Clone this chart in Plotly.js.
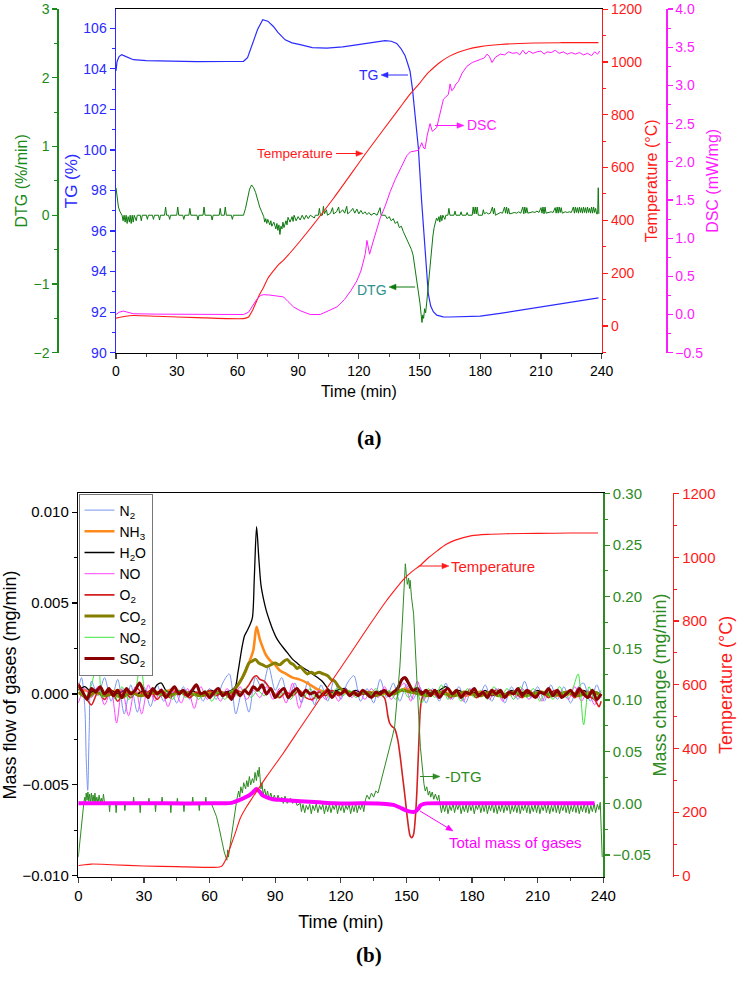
<!DOCTYPE html>
<html><head><meta charset="utf-8">
<script src="https://cdn.plot.ly/plotly-3.0.1.min.js"></script>
<style>html,body{margin:0;padding:0;background:#fff}</style>
</head><body><div id="chart" style="width:738px;height:985px"></div>
<script>
// ---------- DATA: panel (a) ----------
const timeTicks = [0,30,60,90,120,150,180,210,240];
const tgCurve = [[0,103.9],[0.5,104.35],[1.5,104.6],[2.8,104.7],[5,104.6],[8.6,104.45],[15,104.4],[25,104.37],[40,104.35],[55,104.36],[63,104.37],[65,104.55],[67.9,105.35],[70,105.95],[72.5,106.42],[75,106.35],[77.8,106.09],[80,105.8],[83.6,105.43],[87,105.28],[91,105.19],[97,105.05],[104.2,105.02],[112,105.08],[118,105.17],[124,105.27],[130,105.35],[133,105.39],[136,105.36],[138.7,105.25],[140.8,105.0],[142.8,104.66],[144,104.3],[145.3,103.88],[146.5,103.0],[147.7,101.92],[149.4,100.11],[151,97.5],[152.7,94.88],[154.3,92.92],[155.5,92.3],[156.8,92.02],[158.5,91.85],[161.7,91.77],[165,91.76],[173.3,91.77],[180,91.8],[189.8,91.94],[200,92.1],[214.5,92.35],[225,92.52],[238.4,92.7]];
const tempA = [[0,30],[4,36],[8.6,40],[20,37],[40,32],[63,28],[65.5,34],[67.5,60],[69.6,97],[71,120],[72.9,146],[75,180],[77.8,209],[80,230],[82.8,250],[91,322],[107.5,484],[124,660],[140.4,828],[145,875],[150.3,922],[153.5,953],[156.9,978],[160,998],[165.1,1023],[173.4,1047],[180,1058],[189.9,1066],[206.4,1072],[220,1073],[238.4,1073]];
const dscCurve = [[0,0.0],[1.5,0.03],[3.6,0.045],[6,0.025],[8.6,0.01],[20,0.005],[40,0.0],[63,0.0],[65.5,0.03],[67.5,0.12],[69.6,0.20],[71.5,0.25],[72.9,0.26],[76,0.255],[79,0.24],[81.1,0.23],[82.8,0.23],[85,0.17],[87.7,0.10],[91,0.05],[96,0.0],[100.9,0.0],[105,0.05],[109.2,0.10],[113,0.20],[116,0.31],[119,0.44],[121,0.57],[122.3,0.70],[123.2,0.80],[124,0.97],[124.6,0.88],[125.3,0.79],[127,0.95],[130.5,1.26],[133,1.42],[135.5,1.61],[138,1.77],[140.4,1.91],[142,2.00],[143.7,2.08],[145.5,2.13],[147,2.14],[149.4,2.15],[150.3,2.20],[151.1,2.25],[152,2.18],[152.7,2.17],[153.8,2.35],[155.2,2.50],[156.3,2.40],[156.9,2.41],[158.5,2.45],[160,2.62],[161.8,2.82],[163,2.85],[164.2,2.88],[165.1,3.02],[165.9,2.93],[166.7,2.95],[168,3.02],[169.2,3.05],[171,3.16],[173.4,3.25],[176,3.30],[180,3.34],[182,3.36],[183.3,3.41],[184.5,3.38],[185.8,3.30],[187.5,3.37],[189.9,3.41],[192,3.40],[194,3.44],[196,3.42],[198.1,3.43],[199.5,3.40],[201,3.46],[202.5,3.41],[204,3.45],[206,3.42],[208,3.44],[210,3.45],[211.5,3.41],[213,3.44],[215,3.43],[217,3.46],[219,3.42],[221,3.44],[223,3.41],[225,3.43],[227,3.41],[229,3.43],[231,3.40],[233,3.42],[235,3.39],[236.5,3.44],[238,3.41],[239,3.45]];
const dtgCurve = [[0,0.4],[0.6,0.25],[1.2,0.12],[2,0.05],[3,0.0],[3.5,-0.08],[4,0],[4.5,-0.1],[5,0],[5.5,-0.12],[6,-0.02],[6.6,-0.1],[7,0],[7.5,-0.12],[8,0],[8.5,-0.1],[9,0],[10,-0.08],[10.5,0],[12,0],[12.5,-0.08],[13,0],[15,0],[15.5,-0.06],[16,0],[18,0],[18.5,-0.06],[19,0],[21,0],[21.5,-0.07],[22,0],[24,0],[24.5,0.12],[25,0],[26,0],[26.5,-0.06],[27,0],[30,0],[30.5,0.12],[31,0],[33,0],[33.5,-0.06],[34,0],[36,0],[36.5,0.1],[37,0],[40,0],[40.5,-0.07],[41,0],[43,0],[43.5,0.12],[44,0],[47,0],[47.5,-0.07],[48,0],[51,0],[51.5,0.1],[52,0],[53.5,0],[54,0.12],[54.5,0],[57,0],[57.5,-0.06],[58,0],[63,0],[64,0.1],[65,0.25],[66,0.38],[67,0.44],[68,0.4],[69,0.33],[70,0.22],[71,0.12],[72,0.05],[73,-0.02],[73.5,-0.1],[74,-0.05],[74.5,-0.12],[75,-0.06],[76,-0.14],[76.5,-0.08],[77,-0.16],[78,-0.1],[79,-0.2],[79.5,-0.12],[80,-0.22],[80.5,-0.14],[81,-0.28],[81.5,-0.16],[82,-0.2],[82.5,-0.1],[83,-0.18],[84,-0.08],[84.5,-0.14],[85,-0.03],[86,-0.1],[87,-0.02],[87.5,-0.09],[88,0],[89,-0.08],[90,-0.02],[91,-0.07],[92,0],[93,-0.06],[94,0],[95,-0.05],[96,0],[98,-0.04],[98.5,0],[100,0],[100.5,0.1],[101,0],[102,0],[102.5,0.13],[103,0.02],[104,0.08],[104.5,0],[106,0.03],[107,0.11],[107.5,0.02],[109,0.05],[110,0.12],[110.5,0.03],[112,0.08],[113,0.03],[114,0.13],[114.5,0.02],[116,0.06],[117,0.1],[118,0.03],[119,0.09],[120,0.02],[121,0.07],[122,0.02],[123,0.05],[124,0.01],[125,0.04],[126,0],[127.5,0.03],[129,0],[130.5,0.11],[131,0],[132,0],[133,0],[134,-0.05],[135,-0.02],[136,-0.08],[137,-0.05],[138,-0.12],[139,-0.09],[140,-0.18],[141,-0.16],[142,-0.24],[143,-0.3],[144,-0.36],[145,-0.42],[146,-0.5],[146.8,-0.58],[147.5,-0.72],[148.2,-0.85],[149,-1.0],[149.6,-1.15],[150.2,-1.28],[150.8,-1.45],[151.2,-1.56],[151.6,-1.45],[152,-1.5],[152.5,-1.36],[153,-1.42],[153.6,-1.25],[154.2,-1.05],[154.8,-0.8],[155.4,-0.6],[156,-0.45],[156.6,-0.3],[157.2,-0.18],[157.8,-0.1],[158.4,-0.04],[159,-0.08],[159.6,-0.02],[160,-0.1],[160.5,0],[161,-0.08],[161.5,0],[162.5,-0.06],[163,0],[164,0],[164.5,0.1],[165,0],[167,0],[167.5,0.06],[168,0],[170,0],[170.5,0.05],[171,0],[173,0],[173.5,0.04],[174,0],[176,0],[176.5,0.12],[177,0.02],[177.5,0.12],[178,0.02],[178.5,0.12],[179,0],[181,0],[181.5,0.08],[182,0.02],[183,0.04],[184,0.02],[185,0.03],[186,0.12],[186.5,0.02],[187,0.1],[187.5,0],[189,0.02],[190,0.04],[191,0.03],[192,0.12],[192.5,0.03],[193,0.12],[193.5,0.02],[194,0.1],[194.5,0.02],[196,0.03],[197,0.04],[198,0.03],[199,0.05],[200,0.03],[201,0.12],[201.5,0.02],[202,0.12],[202.5,0.03],[203,0.11],[203.5,0.03],[205,0.04],[206,0.05],[207,0.04],[208,0.06],[209,0.04],[210,0.11],[210.5,0.03],[211,0.12],[211.5,0.02],[212,0.12],[212.5,0.03],[214,0.04],[215,0.05],[216,0.04],[217,0.11],[217.5,0.03],[218,0.12],[218.5,0.03],[219,0.12],[219.5,0.04],[220,0.11],[220.5,0.03],[222,0.05],[223,0.04],[224,0.05],[225,0.04],[226,0.12],[226.5,0.03],[227,0.12],[227.5,0.04],[228,0.11],[228.5,0.03],[229,0.12],[229.5,0.04],[230,0.11],[230.5,0.03],[231,0.12],[231.5,0.04],[232,0.11],[232.5,0.03],[233,0.12],[233.5,0.04],[234,0.1],[234.5,0.03],[235,0.12],[235.5,0.03],[236,0.12],[236.5,0.04],[237,0.1],[237.5,0.02],[238,0.02],[238.3,0.4],[238.6,0.02]];

// ---------- DATA: panel (b) ----------
const gasNames = ['N<sub>2</sub>','NH<sub>3</sub>','H<sub>2</sub>O','NO','O<sub>2</sub>','CO<sub>2</sub>','NO<sub>2</sub>','SO<sub>2</sub>'];
const n2Flow = [[0,0.0003],[1.5,0.0009],[3,-0.0008],[3.6,-0.0035],[4.3,-0.0053],[5,-0.002],[6,0.0007],[9,-0.0001],[12,0.0009],[15,-0.0004],[18,0.0008],[21,-0.0011],[24,0.0005],[27,-0.0010],[30,0.0004],[33,-0.0007],[36,0.0005],[39,-0.0004],[42,0.0003],[45,-0.0005],[48,0.0004],[51,-0.0003],[54,0.0005],[57,-0.0004],[60,0.0003],[63,-0.0003],[66,0.0006],[69,0.0011],[72,-0.0011],[75,0.0002],[78,-0.0010],[81,0.0009],[84,0.0003],[87,0.0015],[90,0.0002],[93,0.0009],[96,-0.0003],[99,0.0006],[102,-0.0005],[105,0.0007],[108,-0.0006],[111,0.0005],[114,-0.0004],[117,0.0008],[120,-0.0003],[123,0.0006],[126,0.0010],[129,-0.0004],[132,0.0003],[135,-0.0005],[138,0.0008],[141,-0.0002],[144,0.0006],[147,-0.0004],[150,0.0005],[153,-0.0003],[156,0.0004],[159,-0.0005],[162,0.0003],[165,-0.0004],[168,0.0006],[171,-0.0003],[174,0.0004],[177,-0.0005],[180,0.0003],[183,-0.0002],[186,0.0005],[189,-0.0004],[192,0.0003],[195,-0.0005],[198,0.0004],[201,-0.0003],[204,0.0007],[207,-0.0002],[210,0.0004],[213,-0.0004],[216,0.0005],[219,-0.0003],[222,0.0004],[225,-0.0005],[228,0.0003],[231,0.0006],[234,-0.0004],[237,0.0005],[239,-0.0002]];
const nh3Flow = [[0,0.0003],[6,0.0001],[12,0.0],[18,0.0002],[24,0.0],[30,0.0001],[36,0.0],[42,0.0002],[48,0.0001],[54,0.0],[60,0.0001],[66,0.0],[70,0.0001],[72,0.0003],[74,0.0007],[76,0.0011],[78,0.0017],[80,0.0024],[81.5,0.0037],[83,0.0030],[84.5,0.0025],[86,0.0021],[88,0.0018],[90,0.0016],[92,0.0013],[95,0.0011],[98,0.0009],[101,0.0008],[104.7,0.0006],[108.6,0.0003],[112.5,0.0001],[117,0.0],[123,0.0001],[129,0.0],[135,0.0001],[141,0.0],[147,0.0002],[150,0.0003],[153,0.0001],[159,0.0],[165,0.0001],[171,0.0],[177,-0.0001],[183,0.0001],[189,0.0],[195,-0.0001],[201,0.0001],[207,0.0],[213,0.0001],[219,-0.0001],[225,0.0],[231,0.0001],[237,0.0],[239,-0.0001]];
const h2oFlow = [[0,0.0002],[3,0.0004],[6,0.0001],[9,0.0003],[12,0.0],[15,0.0002],[18,0.0],[21,0.0002],[24,0.0001],[27,0.0],[30,0.0002],[33,0.0],[36,0.0005],[38,0.0006],[40,0.0002],[43,0.0],[46,0.0002],[49,0.0],[52,0.0002],[55,0.0],[58,0.0001],[61,0.0002],[64,0.0],[67,0.0001],[70,0.0002],[71.8,0.0004],[73,0.0012],[74.9,0.0026],[76,0.0032],[77.3,0.0035],[78.5,0.0038],[79.6,0.0042],[80.5,0.0065],[81.5,0.0092],[82.5,0.0075],[83.5,0.0060],[84.7,0.0052],[85.9,0.0046],[87.5,0.0040],[89,0.0035],[90.5,0.0031],[92.1,0.0028],[94,0.0025],[96,0.0022],[98,0.0019],[100,0.0017],[102,0.0015],[104.7,0.0013],[107,0.0011],[109.4,0.0009],[111.5,0.0007],[114,0.0003],[116,0.0001],[118,0.0002],[121.9,0.0003],[124,0.0001],[127,0.0002],[130,0.0],[133,0.0001],[136,0.0],[139,0.0002],[142,0.0],[145,0.0002],[148.6,0.0009],[151,0.0005],[153,0.0001],[156,0.0002],[159,0.0],[162,0.0001],[165,0.0002],[168,0.0004],[171,0.0],[174,0.0002],[177,0.0],[180,0.0001],[183,0.0],[186,0.0002],[189,-0.0001],[192,0.0001],[195,0.0],[198,0.0002],[201,0.0],[204,0.0001],[207,0.0],[210,0.0002],[213,0.0],[216,0.0001],[219,0.0002],[222,-0.0001],[225,0.0001],[228,0.0],[231,0.0002],[234,0.0],[237,0.0001],[239,-0.0001]];
const noFlow = [[0,-0.0005],[3,0.0003],[6,-0.0002],[9,0.0004],[12,-0.0006],[15,0.0002],[17.5,-0.0016],[20,0.0003],[23,-0.0012],[26,0.0004],[29,-0.0011],[32,0.0005],[35,-0.0004],[38,0.0003],[41,-0.0007],[44,0.0002],[47,-0.0005],[50,0.0003],[53,-0.0008],[56,0.0004],[59,-0.0003],[62,0.0002],[65,-0.0004],[68,0.0003],[71,-0.0002],[74,0.0004],[77,-0.0003],[80,0.0002],[83,-0.0002],[86,0.0004],[89,-0.0003],[92,0.0003],[95,-0.0005],[98,0.0006],[101,-0.0008],[104,0.0003],[107,-0.0004],[110,0.0002],[113,-0.0003],[116,0.0002],[119,-0.0004],[122,0.0003],[125,-0.0002],[128,0.0002],[131,-0.0003],[134,0.0003],[137,-0.0002],[140,0.0004],[143,-0.0003],[146,0.0002],[149,0.0006],[152,-0.0004],[155,0.0007],[158,-0.0003],[161,0.0002],[164,-0.0002],[167,0.0003],[170,-0.0003],[173,0.0002],[176,-0.0004],[179,0.0003],[182,-0.0002],[185,0.0002],[188,-0.0003],[191,0.0003],[194,-0.0004],[197,0.0002],[200,-0.0002],[203,0.0003],[206,-0.0003],[209,0.0002],[212,-0.0004],[215,0.0003],[218,-0.0002],[221,0.0002],[224,-0.0003],[227,0.0004],[230,-0.0004],[233,0.0002],[236,-0.0006],[239,0.0001]];
const o2Flow = [[0,0.0006],[3,-0.0001],[6,-0.0006],[9,0.0001],[12,-0.0003],[15,0.0002],[18,-0.0004],[21,0.0001],[24,-0.0002],[27,0.0003],[30,-0.0001],[33,0.0002],[36,-0.0003],[39,0.0001],[42,-0.0002],[45,0.0002],[48,0.0],[51,-0.0002],[54,0.0001],[57,-0.0001],[60,0.0002],[63,-0.0001],[66,0.0001],[69,-0.0002],[72,0.0002],[75,0.0001],[78,0.0005],[80,0.0009],[81.5,0.0010],[83,0.0008],[85,0.0007],[87,0.0004],[89,0.0001],[92,-0.0002],[95,0.0001],[98,-0.0001],[101,0.0002],[104,-0.0002],[107,-0.0003],[110,0.0001],[113,-0.0001],[116,0.0002],[119,-0.0001],[122,0.0002],[125,0.0],[128,-0.0001],[131,0.0001],[134,-0.0001],[137,0.0],[139.9,-0.0002],[141.5,-0.0012],[142.3,-0.0016],[143.5,-0.0018],[144.6,-0.0019],[146,-0.0025],[147,-0.0033],[148.2,-0.0045],[149.3,-0.0056],[150.5,-0.0069],[151.7,-0.0078],[152.5,-0.0079],[153.3,-0.0077],[154.2,-0.0066],[154.8,-0.0053],[155.6,-0.0029],[156.4,-0.0008],[157.2,-0.0002],[158,0.0],[161,0.0002],[164,-0.0001],[167,0.0002],[170,-0.0002],[173,0.0001],[176,-0.0001],[179,0.0002],[182,-0.0002],[185,0.0001],[188,-0.0001],[191,0.0002],[194,-0.0002],[197,0.0001],[200,0.0],[203,-0.0002],[206,0.0002],[209,-0.0001],[212,0.0001],[215,-0.0002],[218,0.0002],[221,-0.0001],[224,0.0001],[227,-0.0002],[230,0.0002],[233,-0.0001],[236,-0.0003],[238,-0.0007],[239,-0.0004]];
const co2Flow = [[0,0.0001],[4,-0.0002],[8,0.0001],[12,-0.0001],[16,0.0],[20,-0.0002],[24,0.0001],[28,-0.0001],[32,0.0],[36,0.0001],[40,-0.0001],[44,0.0],[48,0.0001],[52,0.0],[56,-0.0001],[60,0.0],[64,0.0001],[68,0.0],[71,0.0002],[73,0.0005],[75,0.0009],[76.5,0.0013],[78,0.0017],[79.5,0.0018],[81,0.0019],[82.5,0.0017],[84.3,0.0016],[86,0.0015],[88,0.0016],[90,0.0017],[92,0.0016],[94,0.0018],[95.5,0.0019],[97,0.0017],[98.5,0.0016],[100,0.0014],[101.5,0.0015],[103,0.0013],[104.7,0.0011],[106.5,0.0012],[108,0.0011],[110,0.0012],[112,0.0011],[114,0.0010],[115.5,0.0008],[117.2,0.0007],[119,0.0004],[121,0.0002],[124,0.0001],[128,0.0],[132,0.0001],[136,-0.0001],[140,0.0001],[144,0.0],[148,0.0002],[152,0.0001],[156,0.0],[160,-0.0001],[164,0.0001],[168,0.0],[172,-0.0001],[176,0.0001],[180,0.0],[184,-0.0001],[188,0.0001],[192,-0.0001],[196,0.0],[200,0.0001],[204,-0.0001],[208,0.0],[212,0.0001],[216,-0.0001],[220,0.0],[224,0.0001],[228,-0.0001],[232,0.0],[236,0.0001],[239,-0.0001]];
const no2Flow = [[0,0.0004],[3,-0.0002],[6,0.0005],[9,0.0020],[11,-0.0002],[14,0.0003],[17,-0.0003],[20,0.0004],[23,-0.0003],[26,0.0002],[28.5,0.0017],[31,-0.0002],[34,0.0003],[37,-0.0001],[40,0.0002],[43,-0.0003],[46,0.0002],[49,-0.0002],[52,0.0001],[55,-0.0003],[58,0.0002],[61,-0.0004],[64,0.0001],[67,-0.0003],[70,0.0002],[73,-0.0001],[76,0.0003],[79,-0.0002],[82,0.0002],[85,-0.0001],[88,0.0003],[91,-0.0002],[94,0.0001],[97,-0.0003],[100,0.0002],[103,-0.0002],[106,0.0003],[109,-0.0003],[112,0.0002],[115,-0.0002],[118,0.0003],[121,-0.0001],[124,0.0002],[127,-0.0002],[130,0.0001],[133,-0.0002],[136,0.0003],[139,-0.0001],[142,0.0002],[145,-0.0003],[148,0.0003],[151,-0.0002],[154,0.0004],[157,-0.0005],[160,0.0003],[163,-0.0002],[166,0.0005],[169,-0.0003],[172,0.0002],[175,-0.0004],[178,0.0003],[181,-0.0002],[184,0.0002],[187,-0.0003],[190,0.0004],[193,-0.0002],[196,0.0003],[199,-0.0003],[202,0.0004],[205,-0.0002],[208,0.0003],[211,-0.0004],[214,0.0002],[217,-0.0003],[220,0.0004],[223,-0.0002],[226,0.0003],[228.5,0.0011],[231,-0.0017],[233.5,0.0004],[236,-0.0003],[239,0.0002]];
const so2Flow = [[0,0.0005],[2,0.0001],[4,-0.0003],[6,0.0003],[8,0.0001],[10,0.0004],[12,0.0],[14,0.0003],[16,-0.0001],[18,0.0002],[20,-0.0002],[22,0.0003],[24,0.0],[26,0.0002],[28,0.0006],[30,0.0001],[32,-0.0002],[34,0.0003],[36,0.0],[38,0.0002],[40,-0.0002],[42,0.0001],[44,0.0004],[46,0.0],[48,0.0002],[50,-0.0001],[52,0.0002],[54,0.0005],[56,0.0],[58,0.0001],[60,-0.0002],[62,0.0001],[64,0.0003],[66,-0.0001],[68,0.0001],[70,-0.0003],[72,0.0002],[74,-0.0001],[76,0.0002],[78,0.0],[80,0.0004],[82,0.0002],[84,0.0005],[86,0.0],[88,0.0003],[90,-0.0002],[92,0.0001],[94,0.0003],[96,-0.0002],[98,0.0001],[100,0.0003],[102,-0.0001],[104,0.0002],[106,0.0],[108,0.0001],[110,-0.0002],[112,0.0],[114,0.0002],[116,-0.0002],[118,0.0001],[120,0.0],[122,0.0002],[124,-0.0001],[126,0.0001],[128,-0.0001],[130,0.0002],[132,0.0],[134,-0.0002],[136,0.0001],[138,0.0],[140,0.0002],[142,-0.0001],[144,0.0001],[146,0.0003],[148,0.0008],[149.5,0.0009],[151,0.0006],[153,0.0002],[155,0.0003],[157,0.0],[159,0.0002],[161,-0.0001],[163,0.0002],[165,-0.0002],[167,0.0001],[169,0.0003],[171,0.0],[173,0.0002],[175,-0.0002],[177,0.0001],[179,0.0],[181,0.0003],[183,-0.0001],[185,0.0001],[187,-0.0002],[189,0.0002],[191,0.0],[193,0.0002],[195,-0.0002],[197,0.0001],[199,0.0],[201,0.0003],[203,-0.0001],[205,0.0002],[207,0.0],[209,-0.0002],[211,0.0001],[213,0.0],[215,0.0003],[217,-0.0001],[219,0.0002],[221,-0.0002],[223,0.0],[225,0.0002],[227,-0.0001],[229,0.0003],[231,0.0],[233,-0.0002],[235,0.0002],[237,-0.0003],[239,0.0]];
const negDtg = [[0,-0.052],[0.6,-0.04],[1.3,-0.02],[2,-0.006],[2.6,0.002],[3,0.006],[3.3,0.0],[3.6,0.01],[4,0.003],[4.4,0.011],[4.8,0.002],[5.2,0.009],[5.6,0.0],[6,0.01],[6.4,0.002],[6.8,0.008],[7.2,0.0],[7.6,0.01],[8,0.001],[8.5,0.006],[9,0.0],[9.5,0.008],[10,0.001],[10.5,0.005],[11,0.0],[11.5,0.009],[12,0.0],[14,0.0],[14.3,-0.008],[14.6,0.0],[17,0.0],[17.3,-0.009],[17.6,0.0],[21,0.0],[21.3,-0.007],[21.6,0.0],[25,0.0],[25.3,0.006],[25.6,0.0],[28,0.0],[28.3,-0.009],[28.6,0.0],[32,0.0],[32.3,0.005],[32.6,0.0],[35,0.0],[35.3,-0.008],[35.6,0.0],[38,0.0],[38.3,0.006],[38.6,0.0],[42,0.0],[42.3,-0.009],[42.6,0.0],[45,0.0],[45.3,0.005],[45.6,0.0],[48,0.0],[48.3,-0.008],[48.6,0.0],[52,0.0],[52.3,0.006],[52.6,0.0],[55,0.0],[55.3,-0.007],[55.6,0.0],[58,0.0],[58.3,0.006],[58.6,0.0],[60.8,0.0],[62,-0.006],[63.2,-0.013],[64.4,-0.024],[65.5,-0.036],[66.7,-0.047],[67.9,-0.055],[68.3,-0.045],[68.6,-0.052],[69.4,-0.04],[70.2,-0.03],[71,-0.018],[71.8,-0.007],[72.5,0.004],[73.3,0.012],[73.8,0.006],[74.3,0.016],[75,0.01],[75.6,0.02],[76.5,0.014],[77,0.022],[77.6,0.016],[78.2,0.026],[78.8,0.018],[79.6,0.024],[80.2,0.02],[80.8,0.03],[81.4,0.022],[82,0.032],[82.4,0.026],[82.7,0.035],[83.1,0.02],[83.5,0.014],[84,0.02],[84.5,0.008],[85.2,0.014],[85.9,0.006],[86.5,0.012],[87.2,0.004],[88,0.01],[88.8,0.003],[89.6,0.008],[90.5,0.002],[91.3,0.008],[92.2,0.002],[93,0.006],[93.7,0.0],[94.5,0.007],[95.5,0.0],[97,0.005],[98,0.0],[99,0.004],[100,-0.002],[101.5,0.0],[102,-0.008],[102.7,-0.001],[103.5,-0.009],[104.2,-0.002],[105,-0.006],[105.8,-0.001],[106.5,-0.01],[107.2,-0.002],[108,-0.007],[108.8,0.0],[109.5,-0.009],[110.3,-0.002],[111,-0.006],[111.8,-0.001],[112.5,-0.01],[113.3,-0.002],[114,-0.008],[114.8,-0.001],[115.5,-0.009],[116.3,-0.002],[117,-0.006],[117.8,0.0],[118.5,-0.01],[119.3,-0.002],[120,-0.007],[120.8,-0.001],[121.5,-0.009],[122.3,-0.002],[123,-0.006],[123.8,-0.001],[124.5,-0.01],[125.3,-0.002],[126,-0.008],[126.8,0.0],[127.5,-0.009],[128.3,-0.002],[129,-0.006],[129.8,0.0],[130.5,-0.008],[131.3,0.004],[132,0.008],[133,0.004],[134,0.01],[135,0.006],[136,0.012],[137,0.01],[138,0.018],[139.2,0.028],[140,0.034],[141,0.044],[142.3,0.054],[143.5,0.064],[144.6,0.074],[145.8,0.1],[147,0.132],[148,0.17],[148.6,0.2],[149.1,0.222],[149.5,0.232],[150,0.22],[150.4,0.212],[151,0.218],[151.4,0.208],[151.7,0.216],[152.3,0.2],[153.3,0.183],[154,0.15],[154.8,0.119],[155.6,0.085],[156.4,0.054],[157.2,0.034],[158,0.019],[158.6,0.012],[159.3,0.016],[160,0.008],[160.6,0.012],[161.1,0.006],[161.8,0.011],[162.5,0.004],[163.2,0.009],[164.2,0.003],[164.8,0.008],[165.3,0.0],[166,-0.009],[166.7,-0.001],[167.5,-0.008],[168.3,0.0],[169,-0.01],[169.8,-0.002],[170.5,-0.007],[171.3,0.0],[172,-0.009],[172.8,-0.001],[173.5,-0.006],[174.3,0.0],[175,-0.01],[175.8,-0.002],[176.5,-0.008],[177.3,-0.001],[178,-0.009],[178.8,0.0],[179.5,-0.007],[180.3,-0.001],[181,-0.01],[181.8,-0.002],[182.5,-0.006],[183.3,0.0],[184,-0.009],[184.8,-0.001],[185.5,-0.008],[186.3,0.0],[187,-0.01],[187.8,-0.002],[188.5,-0.007],[189.3,0.0],[190,-0.009],[190.8,-0.001],[191.5,-0.01],[192.3,-0.002],[193,-0.008],[193.8,0.0],[194.5,-0.009],[195.3,-0.001],[196,-0.007],[196.8,0.0],[197.5,-0.01],[198.3,-0.002],[199,-0.008],[199.8,-0.001],[200.5,-0.009],[201.3,0.0],[202,-0.01],[202.8,-0.002],[203.5,-0.007],[204.3,-0.001],[205,-0.009],[205.8,0.0],[206.5,-0.01],[207.3,-0.002],[208,-0.008],[208.8,-0.001],[209.5,-0.009],[210.3,0.0],[211,-0.01],[211.8,-0.002],[212.5,-0.007],[213.3,0.0],[214,-0.009],[214.8,-0.001],[215.5,-0.01],[216.3,-0.002],[217,-0.008],[217.8,0.0],[218.5,-0.009],[219.3,-0.001],[220,-0.01],[220.8,-0.002],[221.5,-0.007],[222.3,0.0],[223,-0.009],[223.8,-0.001],[224.5,-0.01],[225.3,-0.002],[226,-0.008],[226.8,0.0],[227.5,-0.009],[228.3,-0.001],[229,-0.01],[229.8,-0.002],[230.5,-0.008],[231.3,0.0],[232,-0.009],[232.8,-0.001],[233.5,-0.01],[234.3,-0.002],[235,-0.008],[235.8,0.0],[236.5,-0.009],[237.3,-0.001],[238,-0.006],[238.6,0.001],[239,-0.02],[239.5,-0.052]];
const totalGas = [[0,0.0],[20,0.0],[40,0.0],[60,0.0],[70,0.0005],[73.3,0.003],[76,0.0055],[78,0.0076],[80,0.011],[81.5,0.014],[83,0.011],[84.3,0.0076],[86.5,0.0055],[89,0.004],[95,0.003],[101.5,0.002],[110,0.001],[117,0.0],[130,0.0],[140.7,-0.0005],[144,-0.0015],[147,-0.004],[149.5,-0.0065],[151.7,-0.008],[154,-0.008],[155.5,-0.005],[156.4,-0.002],[158,-0.0005],[159.5,0.0],[180,0.0],[200,0.0],[220,0.0],[236,0.0]];
const tempB = [[0,32],[3,35],[6,37],[15,35],[30,31],[45,29],[64,27],[65.5,30],[66.3,37],[67.5,52],[68.6,72],[70,100],[71.8,135],[74,180],[76.5,212],[79.6,245],[85.9,310],[93.7,385],[101.5,465],[109.4,545],[117.2,625],[125.1,705],[132.9,785],[140.7,862],[145,900],[148.6,930],[152.5,955],[156.4,975],[160.3,1000],[164.2,1021],[168,1040],[172,1053],[179.9,1068],[187,1072],[195.6,1074],[210,1075],[225,1076],[237.6,1076]];

// ---------- helpers ----------
const X = a => a.map(p => p[0]);
const Y = a => a.map(p => p[1]);
const W = 738, H = 985;
const px = v => v / W, py = v => 1 - v / H;
const FONT = '"Liberation Sans", Arial, sans-serif';

const C = {tg:'#2b2bff', dtg:'#1a8a1a', dtgLine:'#0d780d', temp:'#ff1a1a', dsc:'#ff1aff', mc:'#2e8a22'};
const gasColors = ['#7896f0','#ff8a1c','#000000','#ff44ff','#d42020','#857f00','#3de63d','#8b0000'];
const gasWidths = [1, 2.6, 1.3, 1, 1.6, 3, 1, 3];
const gasData = [n2Flow, nh3Flow, h2oFlow, noFlow, o2Flow, co2Flow, no2Flow, so2Flow];

const traces = [];
// panel (a)
traces.push({x:X(tgCurve), y:Y(tgCurve), xaxis:'x', yaxis:'y', mode:'lines', line:{color:C.tg, width:1.2}, showlegend:false});
traces.push({x:X(dtgCurve), y:Y(dtgCurve), xaxis:'x', yaxis:'y2', mode:'lines', line:{color:C.dtgLine, width:1}, showlegend:false});
traces.push({x:X(tempA), y:Y(tempA), xaxis:'x', yaxis:'y3', mode:'lines', line:{color:C.temp, width:1.1, shape:'spline', smoothing:0.6}, showlegend:false});
traces.push({x:X(dscCurve), y:Y(dscCurve), xaxis:'x', yaxis:'y4', mode:'lines', line:{color:C.dsc, width:1}, showlegend:false});
// panel (b)
gasData.forEach((d, i) => {
  traces.push({x:X(d), y:Y(d), xaxis:'x2', yaxis:'y5', mode:'lines', name:gasNames[i],
    line:{color:gasColors[i], width:gasWidths[i], shape:'spline', smoothing:0.8}, showlegend:true});
});
traces.push({x:X(negDtg), y:Y(negDtg), xaxis:'x2', yaxis:'y6', mode:'lines', line:{color:C.mc, width:1}, showlegend:false});
traces.push({x:X(totalGas), y:Y(totalGas), xaxis:'x2', yaxis:'y6', mode:'lines', line:{color:'#ff00ff', width:4, shape:'spline', smoothing:0.6}, showlegend:false});
traces.push({x:X(tempB), y:Y(tempB), xaxis:'x2', yaxis:'y7', mode:'lines', line:{color:C.temp, width:1.1, shape:'spline', smoothing:0.6}, showlegend:false});

const tickA = {family:FONT, size:14};
const tickB = {family:FONT, size:15};
function yax(o){
  return Object.assign({showline:true, linewidth:1.5, ticks:'outside', ticklen:5, tickwidth:1.2, ticklabeloverflow:'allow',
    showgrid:false, zeroline:false, minor:{ticks:'outside', ticklen:3, tickwidth:1}}, o);
}
const TOP_A = 9;   // top edge of panel (a) plot area, px

const layout = {
  width:W, height:H, margin:{l:0,r:0,t:0,b:0}, paper_bgcolor:'#fff', plot_bgcolor:'rgba(0,0,0,0)',
  font:{family:FONT, color:'#000'},
  showlegend:true,
  legend:{x:px(78.5), y:py(493.5), xanchor:'left', yanchor:'top', bgcolor:'#fff', bordercolor:'#777', borderwidth:1,
    font:{family:FONT, size:14, color:'#000'}, itemwidth:30, tracegroupgap:0},
  xaxis:{domain:[px(116), px(601.7)], anchor:'y', range:[0,240], tickvals:timeTicks, showline:true, mirror:true,
    linecolor:'#000', linewidth:1.5, ticks:'outside', ticklen:5, tickwidth:1.2, showgrid:false, zeroline:false,
    ticklabeloverflow:'allow', minor:{ticks:'outside', ticklen:3, dtick:15, tickwidth:1}, tickfont:tickA,
    title:{text:'Time (min)', font:{family:FONT, size:16}, standoff:8}},
  yaxis:yax({domain:[py(352.7), py(TOP_A)], anchor:'x', range:[90,106.95], tick0:90, dtick:2, color:C.tg, linecolor:C.tg,
    minor:{ticks:'outside', ticklen:3, dtick:1, tickwidth:1}, tickfont:tickA,
    title:{text:'TG (%)', font:{family:FONT, size:17, color:C.tg}, standoff:1}}),
  yaxis2:yax({overlaying:'y', anchor:'free', position:px(57.3), side:'left', range:[-2,3.0005], dtick:1, tick0:0,
    color:C.dtg, linecolor:C.dtg, minor:{ticks:'outside', ticklen:3, dtick:0.5, tickwidth:1}, tickfont:tickA,
    title:{text:'DTG (%/min)', font:{family:FONT, size:16, color:C.dtg}, standoff:0}}),
  yaxis3:yax({overlaying:'y', anchor:'x', side:'right', range:[-101,1200.5], tick0:0, dtick:200,
    color:C.temp, linecolor:C.temp, minor:{ticks:'outside', ticklen:3, dtick:100, tickwidth:1}, tickfont:tickA,
    title:{text:'Temperature (°C)', font:{family:FONT, size:16, color:C.temp}, standoff:4}}),
  yaxis4:yax({overlaying:'y', anchor:'free', position:px(666), side:'right', range:[-0.5,4.0008], tick0:0, dtick:0.5, tickformat:'.1f',
    color:C.dsc, linecolor:C.dsc, minor:{ticks:'outside', ticklen:3, dtick:0.25, tickwidth:1}, tickfont:tickA,
    title:{text:'DSC (mW/mg)', font:{family:FONT, size:16, color:C.dsc}, standoff:4}}),
  xaxis2:{domain:[px(78.3), px(603.3)], anchor:'y5', range:[0,240], tickvals:timeTicks, showline:true, mirror:true,
    linecolor:'#000', linewidth:1.5, ticks:'outside', ticklen:5, tickwidth:1.2, showgrid:false, zeroline:false,
    ticklabeloverflow:'allow', minor:{ticks:'outside', ticklen:3, dtick:15, tickwidth:1}, tickfont:tickB,
    title:{text:'Time (min)', font:{family:FONT, size:18}, standoff:12}},
  yaxis5:yax({domain:[py(876.5), py(493.4)], anchor:'x2', range:[-0.01004,0.01103], tick0:0, dtick:0.005, tickformat:'.3f',
    color:'#000', linecolor:'#000', minor:{ticks:'outside', ticklen:3, dtick:0.0025, tickwidth:1}, tickfont:tickB,
    title:{text:'Mass flow of gases (mg/min)', font:{family:FONT, size:18}, standoff:6}}),
  yaxis6:yax({overlaying:'y5', anchor:'x2', side:'right', range:[-0.0708,0.3001], tick0:0, dtick:0.05, tickformat:'.2f',
    color:C.mc, linecolor:C.mc, minor:{ticks:'outside', ticklen:3, dtick:0.025, tickwidth:1}, tickfont:tickB,
    title:{text:'Mass change (mg/min)', font:{family:FONT, size:18, color:C.mc}, standoff:3}}),
  yaxis7:yax({overlaying:'y5', anchor:'free', position:px(672.7), side:'right', range:[-2,1200.5], tick0:0, dtick:200,
    color:C.temp, linecolor:C.temp, minor:{ticks:'outside', ticklen:3, dtick:100, tickwidth:1}, tickfont:tickB,
    title:{text:'Temperature (°C)', font:{family:FONT, size:18, color:C.temp}, standoff:5}}),
  annotations:[],
  shapes:[]
};

function label(text, x, y, color, size){
  layout.annotations.push({text:text, x:px(x), y:py(y), xref:'paper', yref:'paper', showarrow:false,
    xanchor:'center', yanchor:'middle', font:{family:FONT, size:size, color:color}});
}
// arrow drawn as line + filled triangular head (pixel positions converted to paper fractions)
function arrow(hx, hy, tx, ty, color){
  const dx = hx - tx, dy = hy - ty, len = Math.hypot(dx, dy);
  const ux = dx / len, uy = dy / len, L = 7, w = 2.8;
  const bx = hx - ux * L, by = hy - uy * L;
  layout.shapes.push({type:'line', xref:'paper', yref:'paper', x0:px(tx), y0:py(ty), x1:px(bx), y1:py(by),
    line:{color:color, width:1}});
  const p1 = [bx - uy * w, by + ux * w], p2 = [bx + uy * w, by - ux * w];
  layout.shapes.push({type:'path', xref:'paper', yref:'paper',
    path:`M ${px(hx)} ${py(hy)} L ${px(p1[0])} ${py(p1[1])} L ${px(p2[0])} ${py(p2[1])} Z`,
    fillcolor:color, line:{color:color, width:0.5}});
}
// panel (a) labels
label('TG', 368, 75, C.tg, 14);           arrow(381, 75, 408, 75, C.tg);
label('Temperature', 295, 153, C.temp, 13.5); arrow(363, 153.5, 336, 153.5, C.temp);
label('DSC', 482, 125.5, C.dsc, 14);      arrow(464, 125.5, 435, 125.5, C.dsc);
label('DTG', 372, 290, '#2f9090', 14);    arrow(389, 287, 415, 287, C.dtgLine);
// panel (b) labels
label('Temperature', 493, 566, C.temp, 15); arrow(449, 566, 420, 566, C.temp);
label('-DTG', 463, 776.5, C.mc, 15);       arrow(440, 776.5, 420, 776.5, C.mc);
label('Total mass of gases', 515, 842, '#ff00ff', 15); arrow(453, 831, 420, 811, '#ff00ff');
// panel captions
layout.annotations.push({text:'<b>(a)</b>', x:px(369), y:py(438), xref:'paper', yref:'paper', showarrow:false,
  font:{family:'"Liberation Serif", "Times New Roman", serif', size:21, color:'#000'}});
layout.annotations.push({text:'<b>(b)</b>', x:px(369), y:py(969), xref:'paper', yref:'paper', showarrow:false,
  font:{family:'"Liberation Serif", "Times New Roman", serif', size:21, color:'#000'}});

Plotly.newPlot('chart', traces, layout, {displayModeBar:false, staticPlot:true});
</script></body></html>
